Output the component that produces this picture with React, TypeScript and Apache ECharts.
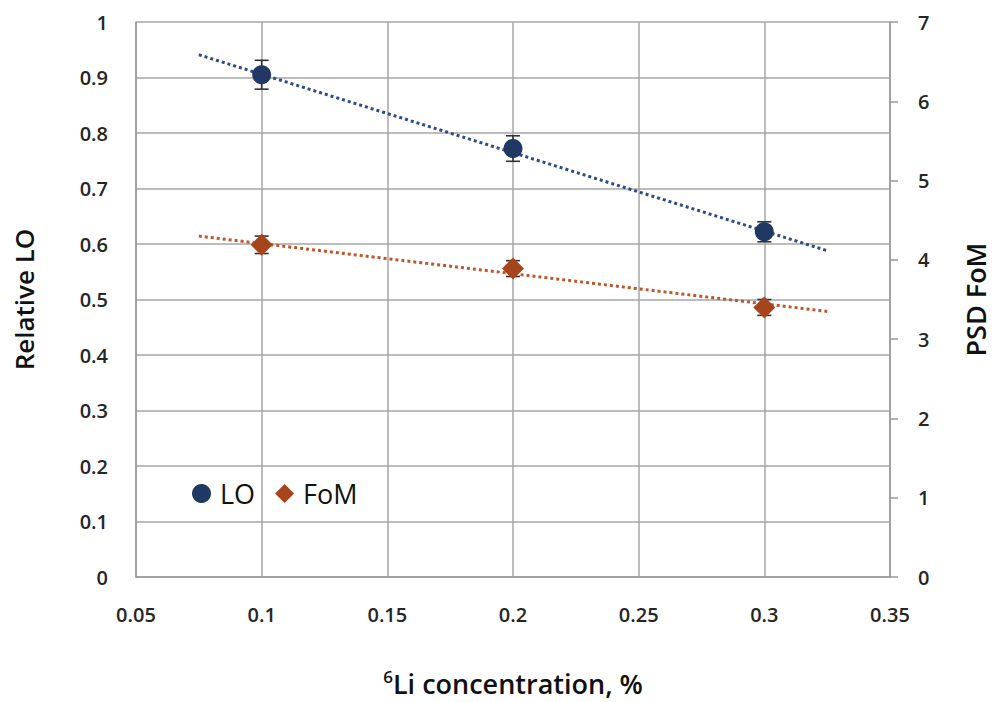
import React, { useEffect, useRef } from "react";
import * as echarts from "echarts";

const concentrations = [0.1, 0.2, 0.3];
const relativeLO = [0.905, 0.772, 0.622];
const loError = [0.026, 0.023, 0.018];
const psdFoM = [4.19, 3.89, 3.4];
const fomError = [0.11, 0.1, 0.1];
const trendX = [0.075, 0.325];
const loTrend = [0.941, 0.588];
const fomTrend = [4.3, 3.35];

const LO_COLOR = "#203864";
const FOM_COLOR = "#a8441b";
const LO_TREND = "#2f4a8a";
const FOM_TREND = "#c0552a";
const FONT = "'Open Sans'";

function errorBarSeries(name: string, values: number[], errs: number[], yAxisIndex: number) {
  return {
    type: "custom",
    name: name + " err",
    yAxisIndex,
    z: 3,
    silent: true,
    data: concentrations.map((x, i) => [x, values[i] - errs[i], values[i] + errs[i]]),
    renderItem: (params: any, api: any) => {
      const lo = api.coord([api.value(0), api.value(1)]);
      const hi = api.coord([api.value(0), api.value(2)]);
      const hw = 7;
      const style = { stroke: "#333", lineWidth: 1.6 };
      return {
        type: "group",
        children: [
          { type: "line", shape: { x1: lo[0], y1: lo[1], x2: hi[0], y2: hi[1] }, style },
          { type: "line", shape: { x1: lo[0] - hw, y1: lo[1], x2: lo[0] + hw, y2: lo[1] }, style },
          { type: "line", shape: { x1: hi[0] - hw, y1: hi[1], x2: hi[0] + hw, y2: hi[1] }, style },
        ],
      };
    },
  };
}

export default function App() {
  const ref = useRef<HTMLDivElement>(null);
  useEffect(() => {
    if (!ref.current) return;
    const chart = echarts.init(ref.current, null, { renderer: "svg" });
    const labelStyle = { color: "#262626", fontSize: 20, fontWeight: 600, fontFamily: FONT };
    const titleStyle = { fontSize: 26, color: "#111", fontWeight: 600, fontFamily: FONT };
    chart.setOption({
      animation: false,
      backgroundColor: "#fff",
      textStyle: { fontFamily: FONT },
      grid: { left: 136, right: 104, top: 22, bottom: 122, containLabel: false },
      legend: {
        left: 187,
        top: 475,
        itemGap: 20,
        itemWidth: 19,
        itemHeight: 19,
        textStyle: { fontSize: 27, color: "#111", fontFamily: FONT, fontWeight: 500, padding: [0, 0, 0, 4] },
        data: [
          { name: "LO", icon: "circle" },
          { name: "FoM", icon: "diamond" },
        ],
      },
      xAxis: {
        type: "value",
        min: 0.05,
        max: 0.35,
        interval: 0.05,
        axisLine: { show: true, lineStyle: { color: "#999", width: 1.5 } },
        axisTick: { show: false },
        splitLine: { show: true, lineStyle: { color: "#a6a6a6", width: 1.5 } },
        axisLabel: { ...labelStyle, margin: 27 },
        name: "{sup|6}{main|Li concentration, %}",
        nameLocation: "middle",
        nameGap: 91,
        nameTextStyle: {
          rich: {
            sup: { fontSize: 17, color: "#111", fontWeight: 600, fontFamily: FONT, verticalAlign: "top", padding: [0, 0, 14, 0] },
            main: { ...titleStyle, fontSize: 27 },
          },
        },
      },
      yAxis: [
        {
          type: "value",
          min: 0,
          max: 1,
          interval: 0.1,
          axisLine: { show: true, lineStyle: { color: "#999", width: 1.5 } },
          axisTick: { show: false },
          splitLine: { show: true, lineStyle: { color: "#a6a6a6", width: 1.5 } },
          axisLabel: { ...labelStyle, margin: 28 },
          name: "Relative LO",
          nameLocation: "middle",
          nameGap: 99,
          nameRotate: 90,
          nameTextStyle: titleStyle,
        },
        {
          type: "value",
          min: 0,
          max: 7,
          interval: 1,
          position: "right",
          axisLine: { show: true, lineStyle: { color: "#999", width: 1.5 } },
          axisTick: { show: true, inside: false, length: 8, lineStyle: { color: "#999", width: 1.5 } },
          splitLine: { show: false },
          axisLabel: { ...labelStyle, margin: 28 },
          name: "PSD FoM",
          nameLocation: "middle",
          nameGap: 72,
          nameRotate: 90,
          nameTextStyle: { ...titleStyle, fontSize: 27 },
        },
      ],
      series: [
        {
          type: "line",
          name: "LO trend",
          yAxisIndex: 0,
          data: trendX.map((x, i) => [x, loTrend[i]]),
          symbol: "none",
          silent: true,
          z: 2,
          lineStyle: { color: LO_TREND, width: 3, type: [3, 3] },
        },
        {
          type: "line",
          name: "FoM trend",
          yAxisIndex: 1,
          data: trendX.map((x, i) => [x, fomTrend[i]]),
          symbol: "none",
          silent: true,
          z: 2,
          lineStyle: { color: FOM_TREND, width: 3, type: [3, 3] },
        },
        errorBarSeries("LO", relativeLO, loError, 0),
        errorBarSeries("FoM", psdFoM, fomError, 1),
        {
          type: "scatter",
          name: "LO",
          yAxisIndex: 0,
          symbol: "circle",
          symbolSize: 19,
          z: 4,
          itemStyle: { color: LO_COLOR, opacity: 1 },
          data: concentrations.map((x, i) => [x, relativeLO[i]]),
        },
        {
          type: "scatter",
          name: "FoM",
          yAxisIndex: 1,
          symbol: "diamond",
          symbolSize: 22,
          z: 4,
          itemStyle: { color: FOM_COLOR, opacity: 1 },
          data: concentrations.map((x, i) => [x, psdFoM[i]]),
        },
      ],
    });
    return () => chart.dispose();
  }, []);
  return <div ref={ref} style={{ width: 997, height: 702, position: "absolute", left: 0, top: 0 }} />;
}
